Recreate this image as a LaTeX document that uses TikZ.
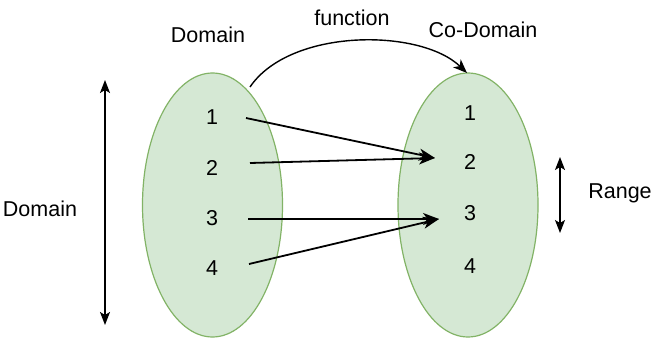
\documentclass[tikz,border=0pt]{standalone}
\usepackage{fontspec}
\setmainfont{Liberation Sans}
\usetikzlibrary{shapes.geometric,arrows.meta}
\definecolor{setfill}{HTML}{D5E8D4}
\definecolor{setline}{HTML}{82B366}
\begin{document}
\begin{tikzpicture}[x=1pt,y=-1pt,
  setnode/.style={ellipse,draw=setline,fill=setfill,line width=1.2pt,minimum width=140pt,minimum height=264pt,inner sep=0pt,outer sep=0pt},
  lbl/.style={font=\fontsize{21.5}{24}\selectfont,inner sep=1pt},
  conn/.style={line width=1.8pt,-{Stealth[length=16pt,width=12pt,inset=4.5pt]}},
  dbl/.style={line width=1.4pt,{Stealth[length=13pt,width=10pt,inset=3pt]}-{Stealth[length=13pt,width=10pt,inset=3pt]}}]
\useasboundingbox (0,0) rectangle (660,350);
\node[setnode] (dom) at (212.5,205) {};
\node[setnode] (cod) at (468,205) {};
\node[lbl] (l1) at (212,117) {1};
\node[lbl] (l2) at (212,168) {2};
\node[lbl] (l3) at (212,218) {3};
\node[lbl] (l4) at (212,268) {4};
\node[lbl] (r1) at (470,113) {1};
\node[lbl] (r2) at (470,162) {2};
\node[lbl] (r3) at (470,213) {3};
\node[lbl] (r4) at (470,266) {4};
\node[lbl] (tdom) at (208,35) {Domain};
\node[lbl] (tfun) at (352,18) {function};
\node[lbl] (tcod) at (483,30) {Co-Domain};
\node[lbl] (trange) at (620,193) {Range};
\node[lbl] (tleft) at (40,209) {Domain};
\coordinate (s1) at (246,118);
\coordinate (s2) at (250,163);
\coordinate (s3) at (248,219);
\coordinate (s4) at (249,264);
\coordinate (t12) at (435,158);
\coordinate (t34) at (439,219);
\draw[conn] (s1) -- (t12);
\draw[conn] (s2) -- (t12);
\draw[conn] (s3) -- (t34);
\draw[conn] (s4) -- (t34);
\coordinate (cs) at (250,87);
\coordinate (ce) at (467,73);
\draw[line width=1.4pt,-{Stealth[length=14pt,width=11pt,inset=4pt]}] (cs) .. controls (290,28) and (420,28) .. (ce);
\coordinate (da) at (105,80);
\coordinate (db) at (105,325);
\draw[dbl] (da) -- (db);
\coordinate (ra) at (560,157);
\coordinate (rb) at (560,233);
\draw[dbl] (ra) -- (rb);
\end{tikzpicture}
\end{document}
